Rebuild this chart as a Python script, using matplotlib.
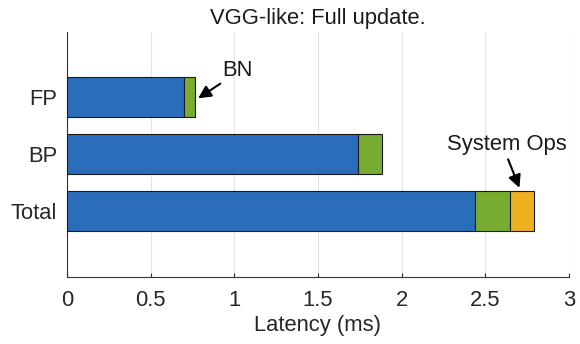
import matplotlib
matplotlib.use('Agg')
import matplotlib.pyplot as plt

# Latency breakdown (ms) per pass
passes = ['FP', 'BP', 'Total']
compute_ms = [0.70, 1.74, 2.44]
bn_ms = [0.066, 0.143, 0.209]
sysops_ms = [0.0, 0.0, 0.14]

blue = '#2a6ebb'
green = '#77ac30'
yellow = '#edb120'
fs = 15.8

plt.rcParams['font.family'] = ['Liberation Sans', 'DejaVu Sans']

fig = plt.figure(figsize=(5.8, 3.44), dpi=100)
ax = fig.add_axes([67/580, 67/344, 502/580, 245/344])

ypos = [3, 2, 1]
h = 0.7
ax.barh(ypos, compute_ms, height=h, color=blue, edgecolor='#1a1a1a', linewidth=0.8, zorder=3)
bn_left = compute_ms
ax.barh(ypos, bn_ms, left=bn_left, height=h, color=green, edgecolor='#1a1a1a', linewidth=0.8, zorder=3)
sys_left = [c + b for c, b in zip(compute_ms, bn_ms)]
ax.barh(ypos[2:], sysops_ms[2:], left=sys_left[2:], height=h, color=yellow,
        edgecolor='#1a1a1a', linewidth=0.8, zorder=3)

ax.set_xlim(0, 3)
ax.set_ylim(-0.16, 4.14)
ax.set_xticks([0, 0.5, 1, 1.5, 2, 2.5, 3])
ax.set_xticklabels(['0', '0.5', '1', '1.5', '2', '2.5', '3'])
ax.set_yticks(ypos)
ax.set_yticklabels(passes)

ax.grid(axis='x', color='#e3e3e3', linewidth=0.8, zorder=0)
ax.spines['top'].set_visible(False)
ax.spines['right'].set_visible(False)
for s in ['left', 'bottom']:
    ax.spines[s].set_color('#333333')
    ax.spines[s].set_linewidth(0.8)
ax.tick_params(direction='in', length=3, width=0.8, color='#333333',
               labelsize=fs, labelcolor='#262626')
ax.tick_params(axis='x', pad=9)
ax.tick_params(axis='y', pad=7)

ax.set_xlabel('Latency (ms)', fontsize=fs, color='#262626', labelpad=3)
ax.set_title('VGG-like: Full update.', fontsize=fs, color='#1a1a1a', pad=6)

# callouts
ax.text(1.016, 3.47, 'BN', fontsize=fs, ha='center', va='center', color='#1a1a1a')
ax.annotate('', xy=(0.77, 2.95), xytext=(0.93, 3.26),
            arrowprops=dict(arrowstyle='-|>', color='black', lw=1.5, mutation_scale=19))
ax.text(2.63, 2.16, 'System Ops', fontsize=fs, ha='center', va='center', color='#1a1a1a')
ax.annotate('', xy=(2.71, 1.36), xytext=(2.63, 1.95),
            arrowprops=dict(arrowstyle='-|>', color='black', lw=1.5, mutation_scale=19))

fig.savefig('out.png', dpi=100)
